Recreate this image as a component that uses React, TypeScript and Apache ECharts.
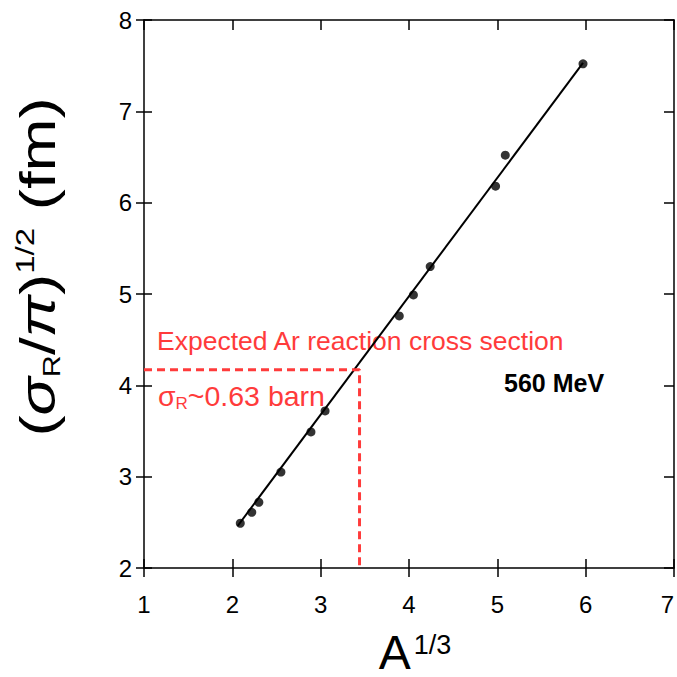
import React, { useEffect, useRef } from "react";
import * as echarts from "echarts";

// A^(1/3) vs (sigma_R/pi)^(1/2) in fm, 560 MeV
const xValues = [2.09, 2.22, 2.3, 2.55, 2.89, 3.05, 3.89, 4.05, 4.24, 4.98, 5.09, 5.97];
const yValues = [2.49, 2.61, 2.72, 3.05, 3.49, 3.72, 4.76, 4.99, 5.3, 6.18, 6.52, 7.52];
const fitX = [2.06, 5.97];
const fitY = [2.46, 7.53];
const expectedX = [1, 3.44, 3.44];
const expectedY = [4.17, 4.17, 2];
const xTicks = [1, 2, 3, 4, 5, 6, 7];
const yTicks = [2, 3, 4, 5, 6, 7, 8];

const RED = "#ff3b3b";
const FONT = "Liberation Sans, Arial, sans-serif";

export default function App() {
  const ref = useRef<HTMLDivElement>(null);
  useEffect(() => {
    if (!ref.current) return;
    const chart = echarts.init(ref.current, null, { renderer: "svg" });
    const xMin = xTicks[0];
    const xMax = xTicks[xTicks.length - 1];
    const yMin = yTicks[0];
    const yMax = yTicks[yTicks.length - 1];
    const baseX = {
      type: "value" as const,
      min: xMin,
      max: xMax,
      interval: 1,
      splitLine: { show: false },
    };
    const baseY = {
      type: "value" as const,
      min: yMin,
      max: yMax,
      interval: 1,
      splitLine: { show: false },
    };
    const lineStyle = { color: "#000", width: 1.5 };
    chart.setOption({
      animation: false,
      backgroundColor: "#fff",
      grid: { left: 144, right: 3, top: 20, bottom: 109, containLabel: false, outerBoundsMode: "none" },
      xAxis: [
        {
          ...baseX,
          position: "bottom",
          axisLine: { show: true, lineStyle },
          axisTick: { show: true, inside: false, length: 9, lineStyle },
          axisLabel: {
            show: true,
            margin: 24,
            fontSize: 24,
            color: "#000",
            fontFamily: FONT,
            alignMaxLabel: "right",
          },
        },
        {
          ...baseX,
          position: "bottom",
          axisLine: { show: false },
          axisTick: { show: true, inside: true, length: 9, lineStyle },
          axisLabel: { show: false },
        },
        {
          ...baseX,
          position: "top",
          axisLine: { show: true, lineStyle },
          axisTick: { show: true, inside: true, length: 10, lineStyle },
          axisLabel: { show: false },
        },
      ],
      yAxis: [
        {
          ...baseY,
          position: "left",
          axisLine: { show: true, lineStyle },
          axisTick: { show: true, inside: false, length: 8, lineStyle },
          axisLabel: { show: true, margin: 12, fontSize: 24, color: "#000", fontFamily: FONT },
        },
        {
          ...baseY,
          position: "left",
          axisLine: { show: false },
          axisTick: { show: true, inside: true, length: 8, lineStyle },
          axisLabel: { show: false },
        },
        {
          ...baseY,
          position: "right",
          axisLine: { show: true, lineStyle },
          axisTick: { show: true, inside: true, length: 10, lineStyle },
          axisLabel: { show: false },
        },
      ],
      series: [
        {
          type: "line",
          xAxisIndex: 0,
          yAxisIndex: 0,
          data: fitX.map((x, i) => [x, fitY[i]]),
          showSymbol: false,
          lineStyle: { color: "#000", width: 2 },
          z: 3,
        },
        {
          type: "scatter",
          xAxisIndex: 0,
          yAxisIndex: 0,
          data: xValues.map((x, i) => [x, yValues[i]]),
          symbol: "circle",
          symbolSize: 9,
          itemStyle: { color: "#000" },
          z: 4,
        },
        {
          type: "line",
          xAxisIndex: 0,
          yAxisIndex: 0,
          data: expectedX.map((x, i) => [x, expectedY[i]]),
          showSymbol: false,
          lineStyle: { color: RED, width: 3, type: [8, 5] },
          z: 5,
        },
      ],
      graphic: [
        {
          type: "text",
          x: 38,
          y: 267,
          rotation: Math.PI / 2,
          scaleX: 1.27,
          scaleY: 1,
          style: {
            text: "{p|(}{s|σ}{sub|R}{p|/}{s|π}{p|)}{sup|1/2}{p| (fm)}",
            align: "center",
            verticalAlign: "middle",
            fill: "#000",
            rich: {
              p: { fontSize: 50, fontFamily: FONT, fill: "#000", lineHeight: 52 },
              s: { fontSize: 50, fontFamily: FONT, fontStyle: "italic", fill: "#000", lineHeight: 52 },
              sub: { fontSize: 24, fontFamily: FONT, fill: "#000", verticalAlign: "bottom", lineHeight: 24 },
              sup: { fontSize: 26, fontFamily: FONT, fill: "#000", verticalAlign: "top", lineHeight: 20 },
            },
          },
        },
        {
          type: "text",
          x: 415,
          y: 652,
          style: {
            text: "{a|A}{sup|1/3}",
            align: "center",
            verticalAlign: "middle",
            rich: {
              a: { fontSize: 48, fontFamily: FONT, fill: "#000", lineHeight: 42 },
              sup: { fontSize: 27, fontFamily: FONT, fill: "#000", verticalAlign: "top", lineHeight: 20, padding: [0, 0, 0, 3] },
            },
          },
        },
        {
          type: "text",
          x: 157,
          y: 341,
          style: {
            text: "Expected Ar reaction cross section",
            fill: RED,
            font: `26.5px ${FONT}`,
            align: "left",
            verticalAlign: "middle",
          },
        },
        {
          type: "text",
          x: 158,
          y: 396,
          style: {
            text: "{m|σ}{sub|R}{m|~0.63 barn}",
            align: "left",
            verticalAlign: "middle",
            rich: {
              m: { fontSize: 28.5, fontFamily: FONT, fill: RED, lineHeight: 32 },
              sub: { fontSize: 17, fontFamily: FONT, fill: RED, verticalAlign: "bottom", lineHeight: 14 },
            },
          },
        },
        {
          type: "text",
          x: 504,
          y: 383,
          style: {
            text: "560 MeV",
            fill: "#000",
            font: `bold 25px ${FONT}`,
            align: "left",
            verticalAlign: "middle",
          },
        },
      ],
    });
    return () => chart.dispose();
  }, []);
  return <div ref={ref} style={{ width: 677, height: 677, position: "absolute", left: 0, top: 0 }} />;
}
